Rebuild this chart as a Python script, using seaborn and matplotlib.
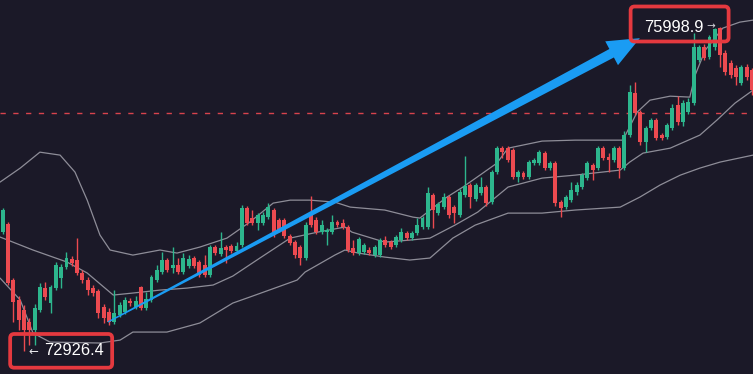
import numpy as np
import pandas as pd
import matplotlib
matplotlib.use("Agg")
import matplotlib.pyplot as plt
import seaborn as sns
from matplotlib.patches import Polygon, FancyBboxPatch
from matplotlib.transforms import IdentityTransform

# ---------------- data (prices) ----------------
opens = [74054, 74130, 73599, 73410, 73315, 73201, 73125, 73315, 73523, 73381,
         73523, 73618, 73722, 73798, 73789, 73666, 73599, 73523, 73495, 73343,
         73296, 73201, 73267, 73296, 73400, 73343, 73533, 73334, 73410, 73599,
         73675, 73789, 73713, 73741, 73675, 73732, 73808, 73770, 73741, 73647,
         73912, 73846, 73912, 73922, 73874, 73931, 74282, 74187, 74140, 74140,
         74196, 74263, 74168, 74168, 74016, 73959, 73912, 73808, 74215, 74168,
         74054, 74054, 74054, 74149, 74140, 74102, 73903, 73855, 73865, 73884,
         73836, 73836, 73978, 73959, 73931, 73978, 74045, 73997, 74045, 74102,
         74102, 74405, 74234, 74291, 74386, 74291, 74215, 74405, 74500, 74367,
         74424, 74481, 74338, 74623, 74850, 74850, 74831, 74576, 74613, 74576,
         74708, 74708, 74803, 74661, 74708, 74338, 74291, 74357, 74433, 74481,
         74566, 74689, 74661, 74850, 74765, 74737, 74850, 74661, 74974, 75372,
         75192, 74907, 75040, 75116, 74974, 74955, 75040, 75258, 75097, 75192,
         75277, 75685, 75808, 75713, 75808, 75988, 75751, 75656, 75609, 75467,
         75618, 75590]
closes = [74263, 73571, 73391, 73220, 73125, 73125, 73334, 73533, 73438, 73533,
          73741, 73722, 73808, 73760, 73666, 73599, 73504, 73476, 73286, 73239,
          73201, 73286, 73362, 73410, 73381, 73400, 73334, 73419, 73628, 73694,
          73789, 73694, 73741, 73675, 73808, 73798, 73732, 73647, 73647, 73912,
          73855, 73903, 73884, 73874, 73922, 74282, 74140, 74140, 74215, 74215,
          74291, 74054, 74073, 74016, 73950, 73836, 73808, 74120, 74120, 74054,
          74120, 74073, 74149, 74120, 74102, 73884, 73855, 73988, 73931, 73855,
          73912, 73978, 73931, 73912, 74007, 74054, 73997, 74045, 74120, 74187,
          74424, 74263, 74320, 74386, 74215, 74234, 74433, 74490, 74386, 74500,
          74481, 74329, 74623, 74850, 74812, 74737, 74576, 74623, 74576, 74718,
          74737, 74812, 74661, 74708, 74329, 74282, 74386, 74452, 74500, 74594,
          74708, 74642, 74850, 74756, 74737, 74850, 74661, 74974, 75381, 75182,
          74907, 75040, 75116, 74945, 74945, 75068, 75230, 75097, 75277, 75286,
          75808, 75808, 75704, 75903, 75979, 75732, 75571, 75542, 75523, 75618,
          75523, 75400]
highs = [74282, 74149, 73618, 73447, 73362, 73239, 73372, 73571, 73580, 73552,
         73770, 73751, 73865, 73827, 73997, 73694, 73628, 73552, 73514, 73372,
         73334, 73504, 73391, 73438, 73429, 73447, 73542, 73485, 73647, 73741,
         73865, 73808, 73912, 73808, 73855, 73836, 73827, 73789, 73836, 73931,
         73931, 74054, 73931, 73940, 73959, 74310, 74301, 74263, 74234, 74244,
         74329, 74282, 74187, 74187, 74035, 73978, 73931, 74149, 74395, 74196,
         74168, 74092, 74215, 74168, 74177, 74120, 73978, 74007, 73950, 73912,
         73931, 73997, 74016, 73978, 74026, 74092, 74064, 74064, 74187, 74206,
         74481, 74424, 74338, 74424, 74405, 74310, 74462, 74775, 74519, 74519,
         74576, 74500, 74642, 74869, 74869, 74869, 74850, 74642, 74632, 74737,
         74756, 74831, 74822, 74727, 74727, 74357, 74405, 74528, 74528, 74613,
         74727, 74708, 74869, 74869, 74803, 74869, 74869, 75012, 75448, 75476,
         75211, 75059, 75135, 75135, 74993, 75087, 75268, 75343, 75305, 75324,
         75941, 75827, 75836, 75922, 75988, 75998.9, 75779, 75685, 75637, 75637,
         75647, 75609]
lows = [74035, 73552, 73201, 73125, 72926.4, 72983, 72983, 73296, 73410, 73286,
        73504, 73523, 73703, 73732, 73647, 73571, 73457, 73447, 73239, 73192,
        73172, 73182, 73248, 73277, 73353, 73324, 73315, 73315, 73391, 73580,
        73656, 73675, 73666, 73656, 73656, 73713, 73713, 73628, 73628, 73628,
        73836, 73827, 73760, 73855, 73855, 73912, 74120, 74120, 74073, 74120,
        74177, 74007, 74054, 73997, 73931, 73808, 73741, 73789, 74102, 74035,
        74035, 73931, 74035, 74102, 74082, 73865, 73836, 73836, 73846, 73836,
        73817, 73817, 73912, 73893, 73912, 73959, 73978, 73978, 74026, 74082,
        74082, 74092, 74215, 74272, 74187, 74140, 74196, 74386, 74282, 74348,
        74405, 74301, 74320, 74604, 74756, 74718, 74557, 74528, 74557, 74557,
        74689, 74689, 74642, 74642, 74301, 74196, 74272, 74338, 74405, 74462,
        74547, 74547, 74642, 74737, 74623, 74718, 74566, 74642, 74955, 75163,
        74879, 74812, 75021, 74926, 74926, 74936, 75021, 75068, 75059, 75173,
        75258, 75666, 75685, 75694, 75779, 75618, 75542, 75514, 75448, 75448,
        75495, 75353]

# Bollinger bands read at sample candles
upper_idx = [-0.5, 3.3, 7.0, 10.8, 13.6, 15.9, 18.3, 20.2, 24.5, 29.6, 32.8, 37.1,
             42.2, 46.5, 50.9, 54.1, 57.8, 62.5, 65.4, 71.9, 77.2, 78.5, 83.6,
             86.6, 89.8, 93.0, 95.1, 101.5, 107.7, 116.7, 119.4, 121.8, 125.6,
             129.3, 130.3, 132.2, 135.5, 138.7, 141.2]
upper_val = [74528, 74661, 74812, 74784, 74623, 74357, 74026, 73884, 73836, 73884,
             73855, 73912, 73997, 74149, 74329, 74357, 74357, 74338, 74291, 74263,
             74196, 74187, 74386, 74481, 74594, 74708, 74850, 74917, 74926, 74926,
             75192, 75305, 75343, 75334, 75542, 75779, 75988, 76045, 76064]
mid_idx = [-0.5, 5.7, 12.1, 15.9, 20.8, 24.5, 29.6, 34.7, 39.6, 43.3, 48.4, 54.1,
           59.3, 64.4, 65.7, 71.9, 76.6, 80.4, 85.1, 89.4, 95.1, 101.5, 107.7,
           116.2, 118.0, 120.5, 125.6, 131.2, 134.4, 137.8, 141.2]
mid_val = [74007, 73884, 73770, 73666, 73457, 73476, 73504, 73523, 73552, 73637,
           73808, 73997, 74054, 74102, 74054, 73959, 73978, 73997, 74120, 74244,
           74481, 74566, 74594, 74642, 74718, 74803, 74850, 74974, 75116, 75277,
           75400]
lower_idx = [-0.5, 3.3, 5.7, 8.9, 18.3, 22.1, 24.5, 30.9, 37.1, 43.3, 46.5, 51.2,
             55.4, 56.9, 62.5, 64.4, 66.9, 71.9, 76.6, 80.4, 84.7, 88.9, 95.1,
             101.5, 107.7, 116.2, 119.9, 123.7, 127.5, 131.2, 135.0, 141.2]
lower_val = [73618, 73410, 73097, 73011, 73002, 73030, 73106, 73106, 73192, 73381,
             73438, 73523, 73599, 73675, 73836, 73884, 73855, 73817, 73789, 73808,
             73997, 74120, 74234, 74234, 74263, 74291, 74386, 74500, 74594, 74661,
             74718, 74784]

ref_price = 75182
low_idx, low_price = 4, 72926.4
high_idx, high_price = 135, 75998.9
arrow_from = (19.8, 73201)
arrow_to = (119.9, 75893)

# ---------------- style ----------------
BG = "#1b1928"
GREEN = "#2db68d"
RED = "#ec4a50"
BAND = "#8e8d98"
BLUE = "#1a9cf3"
BOX_RED = "#e5393f"

sns.set_theme(style="dark", rc={"axes.facecolor": BG, "figure.facecolor": BG,
                                "savefig.facecolor": BG})
plt.rcParams["font.family"] = ["Liberation Sans", "DejaVu Sans"]

W, H = 753, 374
fig = plt.figure(figsize=(W / 100, H / 100), dpi=100)
ax = fig.add_axes([0, 0, 1, 1])
ax.set_facecolor(BG)
n = len(opens)
ax.set_xlim(-0.508, 141.19)
ax.set_ylim(72708.3, 76254.9)

# reference dashed line
ax.axhline(ref_price, color="#d8434d", lw=1.0, dashes=(3.8, 5.4), zorder=1)

# Bollinger bands via seaborn
for xs, ys in ((upper_idx, upper_val), (mid_idx, mid_val), (lower_idx, lower_val)):
    df = pd.DataFrame({"i": xs, "p": ys})
    sns.lineplot(data=df, x="i", y="p", ax=ax, color=BAND, lw=0.9, sort=False,
                 estimator=None, zorder=2)

# candles
o = np.array(opens, float)
c = np.array(closes, float)
h = np.array(highs, float)
l = np.array(lows, float)
x = np.arange(n)
up = c >= o
cols = np.where(up, GREEN, RED)
ax.vlines(x, l, h, colors=cols, lw=1.0, zorder=3)
body_lo = np.minimum(o, c)
body_h = np.maximum(np.abs(c - o), 9.5)
ax.bar(x, body_h, bottom=body_lo, width=0.74, color=cols, linewidth=0, zorder=4)

ax.set_axis_off()
ax.set_xlabel("")
ax.set_ylabel("")

# ---------------- tapered blue arrow (display coords) ----------------
fig.canvas.draw()
p0 = ax.transData.transform(arrow_from)
p1 = ax.transData.transform(arrow_to)
u = (p1 - p0) / np.hypot(*(p1 - p0))
nv = np.array([-u[1], u[0]])
head_len, head_half = 32.0, 13.5
w0, w1 = 0.7, 4.8
base = p1 - head_len * u
pts = [p0 + w0 * nv, base + w1 * nv, base + head_half * nv, p1,
       base - head_half * nv, base - w1 * nv, p0 - w0 * nv]
ax.add_patch(Polygon(pts, closed=True, transform=IdentityTransform(),
                     facecolor=BLUE, edgecolor="none", zorder=6))

# ---------------- price labels ----------------
def box(anchor, dx0, dx1, dy0, dy1):
    ax.add_patch(FancyBboxPatch((anchor[0] + dx0, anchor[1] + dy0), dx1 - dx0, dy1 - dy0,
                                boxstyle="round,pad=0,rounding_size=4",
                                transform=IdentityTransform(), facecolor="none",
                                edgecolor=BOX_RED, lw=2.7, zorder=7))

a_low = ax.transData.transform((low_idx, low_price))
box(a_low, -13.8, 88.2, -16.7, 17.0)
ax.text(a_low[0] + 9.7, a_low[1] - 0.5, "\u2190", transform=IdentityTransform(),
        color="#e6e6ea", fontsize=8.5, family=["DejaVu Sans"], ha="center", va="center",
        zorder=8)
ax.text(a_low[0] + 19.7, a_low[1] - 4.3, f"{low_price:.1f}", transform=IdentityTransform(),
        color="white", fontsize=11.8, ha="left", va="baseline", zorder=8)

a_high = ax.transData.transform((high_idx, high_price))
box(a_high, -89.5, 8.5, -14.5, 20.5)
ax.text(a_high[0] - 76.3, a_high[1] - 4.7, f"{high_price:.1f}", transform=IdentityTransform(),
        color="white", fontsize=11.8, ha="left", va="baseline", zorder=8)
ax.text(a_high[0] - 9.0, a_high[1] + 0.3, "\u2192", transform=IdentityTransform(),
        color="#d2d2d8", fontsize=7.5, family=["DejaVu Sans"], ha="center", va="center",
        zorder=8)

fig.savefig("out.png", dpi=100, facecolor=BG)
